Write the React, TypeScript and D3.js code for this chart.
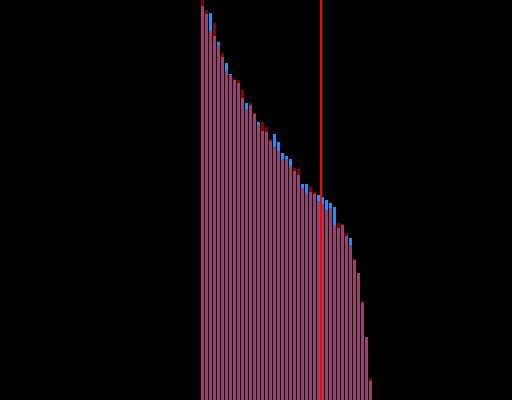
import React from "react";
import * as d3 from "d3";

// Bar tops, expressed as values (0..400 scale)
const categories: number[] = d3.range(43);
const seriesRed: number[] = [
  400, 390, 369, 377, 355, 347, 329, 325, 321, 320, 310, 291, 297, 287, 275, 278,
  273, 261, 254, 249, 241, 241, 234, 232, 231, 212, 207, 213, 208, 199, 196, 190,
  192, 175, 177, 176, 167, 155, 141, 127, 99, 63, 22,
];
const seriesBlue: number[] = [
  394, 386, 387, 364, 358, 343, 337, 326, 320, 317, 302, 297, 295, 286, 278, 269,
  268, 259, 266, 258, 247, 244, 241, 229, 225, 216, 216, 208, 206, 205, 203, 200,
  197, 193, 172, 175, 164, 162, 140, 127, 97, 63, 19,
];
const markerCategory = 30;

const W = 512;
const H = 400;

export default function App() {
  const x = d3
    .scaleBand<number>()
    .domain(categories)
    .range([200.5, 372.5])
    .paddingInner(0.25)
    .paddingOuter(0.125);
  const y = d3.scaleLinear().domain([0, 400]).range([H, 0]);

  return (
    <svg
      width={W}
      height={H}
      style={{ position: "fixed", left: 0, top: 0, background: "#000", display: "block" }}
    >
      <rect x={0} y={0} width={W} height={H} fill="#000" />
      <g>
        {categories.map((c, i) => (
          <rect
            key={"b" + c}
            x={x(c)}
            y={y(seriesBlue[i])}
            width={x.bandwidth()}
            height={H - y(seriesBlue[i])}
            fill="#1e90ff"
          />
        ))}
      </g>
      <g>
        {categories.map((c, i) => (
          <rect
            key={"r" + c}
            x={x(c)}
            y={y(seriesRed[i])}
            width={x.bandwidth()}
            height={H - y(seriesRed[i])}
            fill="#ff0000"
            fillOpacity={0.55}
          />
        ))}
      </g>
      <line
        x1={x(markerCategory)}
        x2={x(markerCategory)}
        y1={0}
        y2={H}
        stroke="#ff0000"
        strokeWidth={2}
      />
    </svg>
  );
}
